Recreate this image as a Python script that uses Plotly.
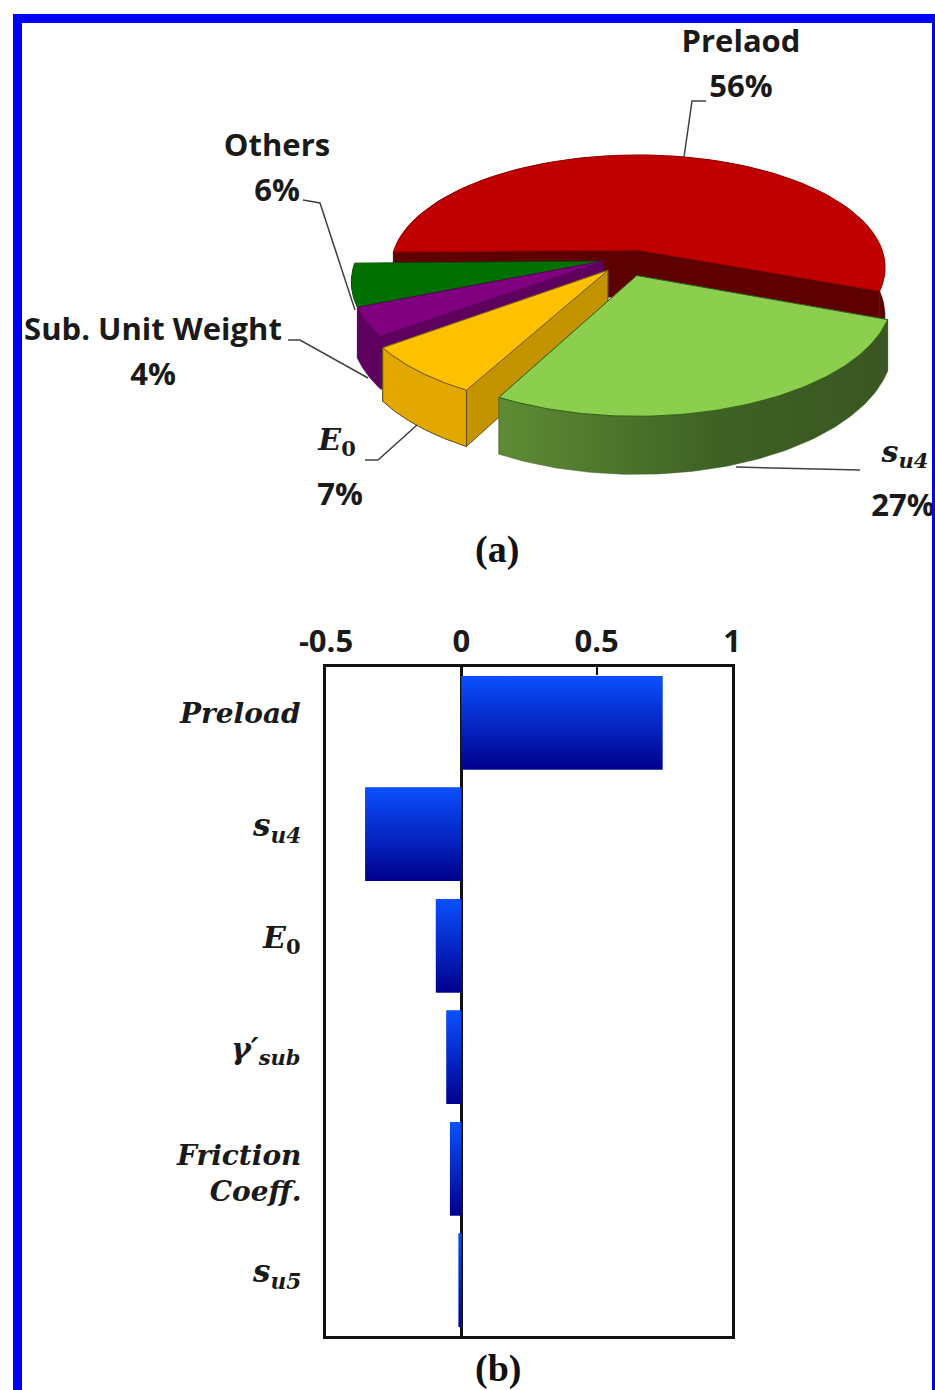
import numpy as np
import plotly.graph_objects as go

# ---- data ----
PIE_LABELS = ["Prelaod", "s_u4", "E0", "Sub. Unit Weight", "Others"]
PIE_SHARES = [56, 27, 7, 4, 6]
BAR_KEYS = ["Preload", "s_u4", "E_0", "gamma'_sub", "Friction Coeff.", "s_u5"]
BAR_VALUES = [0.743, -0.355, -0.094, -0.055, -0.042, -0.01]
BAR_TICKTEXT = [
    "<b><i>Preload</i></b>",
    "<b><i>s</i></b><sub><b><i>u4</i></b></sub>",
    "<b><i>E</i></b><sub><b>0</b></sub>",
    "<b><i>γ′</i></b><sub><b><i>sub</i></b></sub>",
    "<b><i>Friction</i></b><br><b><i>Coeff.</i></b>",
    "<b><i>s</i></b><sub><b><i>u5</i></b></sub>",
]
X_TICKS = [-0.5, 0, 0.5, 1]
X_TICKTEXT = ["-0.5", "0", "0.5", "1"]

# ---- pie styling ----
W, H = 935, 1390
CX, CY, RX, RY, PERSP, DEPTH = 638, 250, 244, 109.8, 0.156, 47
START_ANGLE = 181
EXPLODE = [(0, 0), (-0.005, -0.225), (-0.12, -0.18), (-0.14, -0.1), (-0.14, -0.1)]
TOP = ["#C00000", "#8CCF4E", "#FFC000", "#800080", "#007000"]
SIDE = ["#5E0000", "#3F5F22", "#E2A800", "#5E005E", "#004F00"]
FACE = ["#5E0000", "#3F5F22", "#C49400", "#5E005E", "#004F00"]
EDGE = ["#A00000", "#2F6018", "#7A6410", "#600060", "#005000"]
DRAW_ORDER = [0, 4, 3, 2, 1]
FLAT_SLICES = [4]


def project(X, Y, depth=0.0):
    X, Y = np.asarray(X, float), np.asarray(Y, float)
    w = 1 / (1 + PERSP * Y)
    return CX + RX * X * w, CY - RY * Y * w + depth * w


def closed(x, y):
    return np.r_[x, x[0]], np.r_[y, y[0]]


fig = go.Figure()

# bars: real bar trace, gradient painted over it from the same values
fig.add_trace(go.Bar(
    x=BAR_VALUES, y=list(range(len(BAR_VALUES))), orientation="h",
    marker=dict(color="#0525C0", line=dict(width=0)),
    width=0.84, hoverinfo="skip", showlegend=False, xaxis="x", yaxis="y",
))
for i, v in enumerate(BAR_VALUES):
    fig.add_trace(go.Scatter(
        x=[0, v, v, 0, 0], y=[i - 0.42, i - 0.42, i + 0.42, i + 0.42, i - 0.42],
        mode="lines", line=dict(width=0), fill="toself",
        fillgradient=dict(type="vertical",
                          colorscale=[[0, "#00008C"], [1, "#0B50FF"]]),
        hoverinfo="skip", showlegend=False, xaxis="x", yaxis="y",
    ))

# pie: slices built from the shares
angles = {}
a0 = START_ANGLE
for k, share in enumerate(PIE_SHARES):
    a1 = a0 - share * 3.6
    angles[k] = (a0, a1)
    a0 = a1


def add_poly(x, y, fill, edge=None, gradient=None):
    x, y = closed(x, y)
    kw = dict(fillgradient=gradient) if gradient else dict(fillcolor=fill)
    fig.add_trace(go.Scatter(
        x=x, y=y, mode="lines", fill="toself",
        line=dict(color=edge or fill, width=1 if edge else 0.5),
        hoverinfo="skip", showlegend=False, xaxis="x2", yaxis="y2", **kw,
    ))


for k in DRAW_ORDER:
    a, b = angles[k]
    t = np.radians(np.linspace(a, b, 90))
    ex, ey = EXPLODE[k]
    X, Y = ex + np.cos(t), ey + np.sin(t)
    x1, y1 = project(X, Y)
    if k not in FLAT_SLICES:
        for Xe, Ye in ((X[-1], Y[-1]), (X[0], Y[0])):
            fx = np.array([ex, Xe])
            fy = np.array([ey, Ye])
            fx1, fy1 = project(fx, fy)
            fx2, fy2 = project(fx, fy, DEPTH)
            add_poly(np.r_[fx1, fx2[::-1]], np.r_[fy1, fy2[::-1]], FACE[k],
                     edge="#6B5410" if k == 2 else None)
        x2, y2 = project(X, Y, DEPTH)
        grad = None
        if k == 1:
            grad = dict(type="horizontal",
                        colorscale=[[0, "#5E8C34"], [0.55, "#3F6224"], [1, "#3A5622"]])
        add_poly(np.r_[x1, x2[::-1]], np.r_[y1, y2[::-1]], SIDE[k],
                 edge="#5C4A10" if k == 2 else None, gradient=grad)
    x0, y0 = project([ex], [ey])
    add_poly(np.r_[x0, x1], np.r_[y0, y1], TOP[k], edge=EDGE[k])

# pie labels
SANS = "Open Sans"
SERIF = "DejaVu Serif"
LABEL_TEXT = ["Prelaod", "56%", "Others", "6%",
              "Sub. Unit Weight", "4%", "7%", "27%"]
LABEL_X = [741, 741, 277, 277, 153, 153, 340, 903]
LABEL_Y = [44, 89, 148, 193, 332, 377, 497, 508]
fig.add_trace(go.Scatter(
    x=LABEL_X, y=LABEL_Y, mode="text", text=LABEL_TEXT,
    textfont=dict(family=SANS, size=31, color="#1a1a1a", weight="bold"),
    textposition="middle center", hoverinfo="skip", showlegend=False,
    cliponaxis=False, xaxis="x2", yaxis="y2",
))
fig.add_trace(go.Scatter(
    x=[337, 905], y=[442, 454], mode="text",
    text=["<b><i>E</i></b><sub><b>0</b></sub>", "<b><i>s</i></b><sub><b><i>u4</i></b></sub>"],
    textfont=dict(family=SERIF, size=30, color="#1a1a1a"),
    textposition="middle center", hoverinfo="skip", showlegend=False,
    cliponaxis=False, xaxis="x2", yaxis="y2",
))

# leader lines and frame
LEADERS = [
    "M684,157 L692,101 L706,101",
    "M355,310 L320,203 L303,200",
    "M368,378 L300,340 L288,340",
    "M417,425 L378,460 L365,460",
    "M736,467 L860,470",
]
shapes = [dict(type="path", path=p, xref="x2", yref="y2",
               line=dict(color="#404040", width=1.5), layer="above")
          for p in LEADERS]
for x0, y0, x1, y1 in [(13, 14, 22, H), (13, 14, W, 23), (932, 14, W, H)]:
    shapes.append(dict(type="rect", xref="x2", yref="y2", x0=x0, y0=y0, x1=x1, y1=y1,
                       fillcolor="#0000FF", line=dict(width=0), layer="above"))

LABEL_SHIFT = [9, 7, 6, 7, -5, 7]
LABEL_SIZE = [28, 31, 30, 30, 28, 31]
annotations = [
    dict(x=303, y=i, xref="x2", yref="y", text=t, showarrow=False, xanchor="right",
         yanchor="middle", yshift=s, font=dict(family=SERIF, size=z, color="#1a1a1a"),
         align="right")
    for i, (t, s, z) in enumerate(zip(BAR_TICKTEXT, LABEL_SHIFT, LABEL_SIZE))
]
for txt, px, py in [("<b>(a)</b>", 497, 549), ("<b>(b)</b>", 498, 1368)]:
    annotations.append(dict(x=px, y=py, xref="x2", yref="y2", text=txt, showarrow=False,
                            font=dict(family="Liberation Serif", size=38, color="#111111")))

fig.update_layout(
    width=W, height=H, margin=dict(l=0, r=0, t=0, b=0, autoexpand=False), autosize=False,
    paper_bgcolor="white", plot_bgcolor="rgba(0,0,0,0)",
    barmode="overlay", shapes=shapes, annotations=annotations, showlegend=False,
    xaxis=dict(domain=[326 / W, 732 / W], range=[-0.5, 1], side="top", anchor="y",
               tickvals=X_TICKS, ticktext=X_TICKTEXT, ticks="inside", ticklen=8,
               tickwidth=2, tickcolor="#111111", automargin=False,
               tickfont=dict(family=SANS, size=31, color="#1a1a1a", weight="bold"),
               showgrid=False, showline=True, linecolor="#111111", linewidth=3,
               mirror=True, zeroline=True, zerolinecolor="#111111", zerolinewidth=3),
    yaxis=dict(domain=[(H - 1336) / H, (H - 667) / H], range=[5.5, -0.5], anchor="x",
               showticklabels=False, ticks="", showgrid=False, showline=True, automargin=False,
               linecolor="#111111", linewidth=3, mirror=True, zeroline=False),
    xaxis2=dict(domain=[0, 1], range=[0, W], visible=False, anchor="y2", fixedrange=True),
    yaxis2=dict(domain=[0, 1], range=[H, 0], visible=False, anchor="x2", fixedrange=True),
)
fig.write_html("out.html", config=dict(displayModeBar=False),
               post_script="document.body.style.margin='0';document.body.style.overflow='hidden';")
